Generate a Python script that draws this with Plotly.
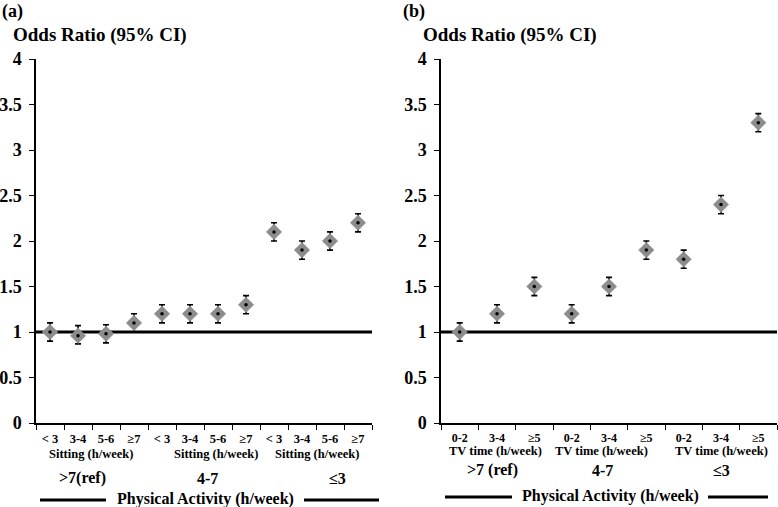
import plotly.graph_objects as go

W, H = 778, 507

# ---- data ----
sit_labels = ["< 3", "3-4", "5-6", "≥7"] * 3
sit_or = [1.00, 0.96, 0.98, 1.10, 1.20, 1.20, 1.20, 1.30, 2.10, 1.90, 2.00, 2.20]
sit_lo = [0.90, 0.87, 0.88, 1.00, 1.10, 1.10, 1.10, 1.20, 2.00, 1.80, 1.90, 2.10]
sit_hi = [1.10, 1.07, 1.08, 1.20, 1.30, 1.30, 1.30, 1.40, 2.20, 2.00, 2.10, 2.30]

tv_labels = ["0-2", "3-4", "≥5"] * 3
tv_or = [1.00, 1.20, 1.50, 1.20, 1.50, 1.90, 1.80, 2.40, 3.30]
tv_lo = [0.90, 1.10, 1.40, 1.10, 1.40, 1.80, 1.70, 2.30, 3.20]
tv_hi = [1.10, 1.30, 1.60, 1.30, 1.60, 2.00, 1.90, 2.50, 3.40]

pa_groups_a = [">7(ref)", "4-7", "≤3"]
pa_groups_b = [">7 (ref)", "4-7", "≤3"]
y_ticks = [0, 0.5, 1, 1.5, 2, 2.5, 3, 3.5, 4]

FONT = "Liberation Serif"
GREY = "#8c8c8c"


def px(x):
    return x / W


def py(y):
    return 1 - y / H


fig = go.Figure()


def add_panel(vals, lo, hi, xa, ya):
    xs = list(range(len(vals)))
    fig.add_trace(go.Scatter(
        x=xs, y=vals, mode="markers", xaxis=xa, yaxis=ya,
        marker=dict(symbol="diamond", size=12, color=GREY,
                    line=dict(color="#a0a0a0", width=0.5)),
        error_y=dict(type="data", symmetric=False,
                     array=[h - v for h, v in zip(hi, vals)],
                     arrayminus=[v - l for v, l in zip(vals, lo)],
                     color="black", thickness=1.6, width=3),
        showlegend=False, hoverinfo="skip"))
    fig.add_trace(go.Scatter(
        x=xs, y=vals, mode="markers", xaxis=xa, yaxis=ya,
        marker=dict(symbol="circle", size=3.5, color="black"),
        showlegend=False, hoverinfo="skip"))


add_panel(sit_or, sit_lo, sit_hi, "x", "y")
add_panel(tv_or, tv_lo, tv_hi, "x2", "y2")

ydom = [84 / H, 448 / H]
tickfont = dict(family=FONT, size=18, color="black", weight="bold")


def catfont(size):
    return dict(family=FONT, size=size, color="black", weight="bold")


def yaxis_cfg(anchor):
    return dict(domain=ydom, range=[0, 4], tickvals=y_ticks,
                ticktext=[f"{v:g}" for v in y_ticks],
                ticks="outside", ticklen=5, tickwidth=1.2, tickcolor="black",
                showline=True, linecolor="black", linewidth=1.5,
                showgrid=False, zeroline=False, tickfont=tickfont,
                anchor=anchor, ticklabelstandoff=4, automargin=False)


def xaxis_cfg(n, labels, dom, anchor, fsize):
    return dict(domain=dom, range=[-0.5, n - 0.5],
                tickmode="array", tickvals=list(range(n)), ticktext=labels,
                ticks="", showline=True, linecolor="black", linewidth=1.5,
                showgrid=False, zeroline=False, tickfont=catfont(fsize),
                ticklabelstandoff=3, anchor=anchor, automargin=False,
                minor=dict(tickmode="array",
                           tickvals=[i - 0.5 for i in range(n + 1)],
                           ticks="outside", ticklen=5, tickwidth=1.2,
                           tickcolor="black", showgrid=False))


fig.update_layout(
    template="none",
    width=W, height=H, margin=dict(l=0, r=0, t=0, b=0),
    plot_bgcolor="white", paper_bgcolor="white",
    xaxis=xaxis_cfg(len(sit_or), sit_labels, [px(36), px(372)], "y", 12.5),
    yaxis=yaxis_cfg("x"),
    xaxis2=xaxis_cfg(len(tv_or), tv_labels, [px(441), px(777)], "y2", 12),
    yaxis2=yaxis_cfg("x2"),
)

# reference lines at OR = 1
for xr, yr in (("x domain", "y"), ("x2 domain", "y2")):
    fig.add_shape(type="line", xref=xr, yref=yr, x0=0, x1=1, y0=1, y1=1,
                  line=dict(color="black", width=3), layer="below")

ann = []


def text(x, y, s, size, bold=True, xanchor="center"):
    ann.append(dict(x=px(x), y=py(y), xref="paper", yref="paper", text=s,
                    showarrow=False, xanchor=xanchor, yanchor="middle",
                    font=dict(family=FONT, size=size, color="black",
                              weight="bold" if bold else "normal")))


# panel labels and titles
text(0, 11, "(a)", 18, xanchor="left")
text(401, 11, "(b)", 18, xanchor="left")
text(11, 35, "Odds Ratio (95% CI)", 19, xanchor="left")
text(421, 35, "Odds Ratio (95% CI)", 19, xanchor="left")

# second-row category labels
for cx in (91, 216, 317):
    text(cx, 454, "Sitting (h/week)", 12.5)
for cx in (495, 601, 721):
    text(cx, 451, "TV time (h/week)", 12.5)

# physical activity groups
for cx, s in zip((82, 207, 337), pa_groups_a):
    text(cx, 478, s, 16)
for cx, s in zip((492, 602, 721), pa_groups_b):
    text(cx, 470, s, 16)

text(205, 499, "Physical Activity (h/week)", 16)
text(610, 496, "Physical Activity (h/week)", 16)

fig.update_layout(annotations=ann)

for x0, x1, yy in ((40, 106, 500), (304, 379, 500), (445, 512, 497), (708, 768, 497)):
    fig.add_shape(type="line", xref="paper", yref="paper",
                  x0=px(x0), x1=px(x1), y0=py(yy), y1=py(yy),
                  line=dict(color="black", width=3))

fig.write_html(
    "out.html",
    config={"displayModeBar": False},
    post_script="document.body.style.margin='0';document.body.style.overflow='hidden';",
)
